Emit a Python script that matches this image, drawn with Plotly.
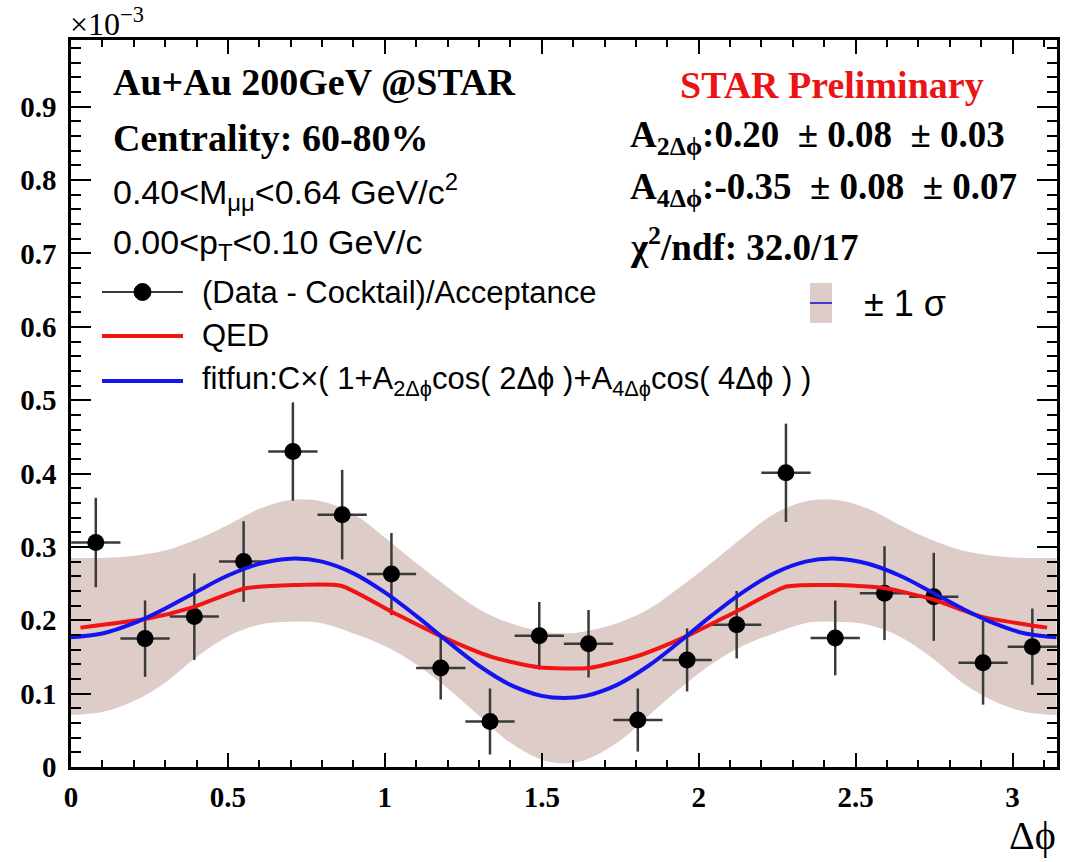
import plotly.graph_objects as go

# ---------------- data (values in units of 1e-3) ----------------
dphi = [0.079, 0.236, 0.393, 0.550, 0.707, 0.864, 1.021, 1.178, 1.335, 1.492,
        1.649, 1.806, 1.963, 2.121, 2.278, 2.435, 2.592, 2.749, 2.906, 3.063]
data_val = [0.306, 0.175, 0.205, 0.280, 0.430, 0.344, 0.263, 0.135, 0.062, 0.179,
            0.168, 0.064, 0.146, 0.194, 0.401, 0.176, 0.237, 0.232, 0.142, 0.164]
data_err = [0.061, 0.052, 0.059, 0.055, 0.067, 0.061, 0.056, 0.043, 0.045, 0.046,
            0.046, 0.043, 0.043, 0.046, 0.067, 0.051, 0.064, 0.060, 0.057, 0.052]
bin_half = [0.0785] * 20

fit_x = [0.0, 0.1, 0.2, 0.3, 0.4, 0.5, 0.6, 0.7, 0.8, 0.9, 1.0, 1.1, 1.2, 1.3, 1.4, 1.5, 1.57,
         1.64, 1.74, 1.84, 1.94, 2.04, 2.14, 2.24, 2.34, 2.44, 2.54, 2.64, 2.74, 2.84, 2.94, 3.04, 3.14]
fit_val = [0.177, 0.182, 0.196, 0.216, 0.239, 0.261, 0.277, 0.284, 0.280, 0.264, 0.238, 0.206, 0.171,
           0.138, 0.112, 0.097, 0.094,
           0.097, 0.112, 0.138, 0.171, 0.206, 0.238, 0.264, 0.280, 0.284, 0.277, 0.261, 0.239,
           0.216, 0.196, 0.182, 0.177]
band_hi = [0.285, 0.285, 0.288, 0.295, 0.310, 0.330, 0.352, 0.364, 0.362, 0.345, 0.313, 0.278, 0.245,
           0.215, 0.196, 0.185, 0.182,
           0.185, 0.196, 0.215, 0.245, 0.278, 0.313, 0.345, 0.362, 0.364, 0.352, 0.330, 0.310,
           0.295, 0.288, 0.285, 0.285]
band_lo = [0.071, 0.075, 0.090, 0.115, 0.150, 0.178, 0.194, 0.198, 0.196, 0.182, 0.165, 0.140, 0.107,
           0.070, 0.033, 0.010, 0.005,
           0.010, 0.033, 0.070, 0.107, 0.140, 0.165, 0.182, 0.196, 0.198, 0.194, 0.178, 0.150,
           0.115, 0.090, 0.075, 0.071]

qed_x = [0.03, 0.24, 0.39, 0.55, 0.71, 0.86, 1.02, 1.18, 1.34, 1.49,
         1.65, 1.81, 1.96, 2.12, 2.28, 2.43, 2.59, 2.75, 2.90, 3.11]
qed_val = [0.190, 0.202, 0.218, 0.243, 0.248, 0.247, 0.212, 0.178, 0.150, 0.136,
           0.135, 0.152, 0.178, 0.212, 0.246, 0.248, 0.244, 0.228, 0.205, 0.190]

x_ticks = [0, 0.5, 1, 1.5, 2, 2.5, 3]
x_ticklabels = ["0", "0.5", "1", "1.5", "2", "2.5", "3"]
y_ticks = [0, 0.1, 0.2, 0.3, 0.4, 0.5, 0.6, 0.7, 0.8, 0.9]
y_ticklabels = ["0", "0.1", "0.2", "0.3", "0.4", "0.5", "0.6", "0.7", "0.8", "0.9"]

# ---------------- style ----------------
BAND = "rgb(221,204,199)"
RED = "rgb(240,20,20)"
BLUE = "rgb(20,20,240)"
SERIF = "Liberation Serif"
SANS = "Liberation Sans"

L, R, T, B = 71, 1057, 40, 767
W, H = R - L, B - T


def px(x):
    return (x - L) / W


def py(y):
    return (B - y) / H


fig = go.Figure()

fig.add_trace(go.Scatter(x=fit_x, y=band_lo, mode="lines", line=dict(width=0, shape="spline"),
                         hoverinfo="skip", showlegend=False))
fig.add_trace(go.Scatter(x=fit_x, y=band_hi, mode="lines", line=dict(width=0, shape="spline"),
                         fill="tonexty", fillcolor=BAND, hoverinfo="skip", showlegend=False))

fig.add_trace(go.Scatter(
    x=dphi, y=data_val, mode="markers",
    marker=dict(color="black", size=17, symbol="circle"),
    error_y=dict(type="data", array=data_err, color="#3a3a3a", thickness=2.5, width=0),
    error_x=dict(type="data", array=bin_half, color="#3a3a3a", thickness=2.5, width=0),
    showlegend=False))

fig.add_trace(go.Scatter(x=qed_x, y=qed_val, mode="lines",
                         line=dict(color=RED, width=4, shape="spline", smoothing=0.6),
                         showlegend=False))
fig.add_trace(go.Scatter(x=fit_x, y=fit_val, mode="lines",
                         line=dict(color=BLUE, width=4, shape="spline"),
                         showlegend=False))

tickfont = dict(family=SERIF, size=29, color="black", weight="bold")
fig.update_xaxes(range=[0, 3.1416], tickvals=x_ticks, ticktext=x_ticklabels,
                 ticks="inside", ticklen=14, tickwidth=2, tickcolor="black",
                 minor=dict(dtick=0.1, tick0=0, ticks="inside", ticklen=7, tickwidth=2, tickcolor="black"),
                 showline=True, linewidth=2.5, linecolor="black", mirror="ticks",
                 showgrid=False, zeroline=False, tickfont=tickfont, ticklabelstandoff=2)
fig.update_yaxes(range=[0, 0.991], tickvals=y_ticks, ticktext=y_ticklabels,
                 ticks="inside", ticklen=20, tickwidth=2, tickcolor="black",
                 minor=dict(dtick=0.02, tick0=0, ticks="inside", ticklen=10, tickwidth=2, tickcolor="black"),
                 showline=True, linewidth=2.5, linecolor="black", mirror="ticks",
                 showgrid=False, zeroline=False, tickfont=tickfont, ticklabelstandoff=6)

ann = []


def text(x, y, s, family, size, color="black", anchor="left"):
    ann.append(dict(x=px(x), y=py(y), xref="paper", yref="paper", text=s, showarrow=False,
                    xanchor=anchor, yanchor="middle",
                    font=dict(family=family, size=size, color=color)))


text(68, 22, "×10<sup>−3</sup>", SERIF, 32)
text(111, 82, "<b>Au+Au 200GeV @STAR</b>", SERIF, 38)
text(111, 138, "<b>Centrality: 60-80%</b>", SERIF, 38)
text(111, 192, "0.40&lt;M<sub>μμ</sub>&lt;0.64 GeV/c<sup>2</sup>", SANS, 34)
text(111, 245, "0.00&lt;p<sub>T</sub>&lt;0.10 GeV/c", SANS, 34)
text(678, 85, "<b>STAR Preliminary</b>", SERIF, 38, color="rgb(235,20,20)")
text(628, 137, "<b>A<sub>2Δϕ</sub>:0.20 &nbsp;± 0.08 &nbsp;± 0.03</b>", SERIF, 37)
text(628, 190, "<b>A<sub>4Δϕ</sub>:-0.35 &nbsp;± 0.08 &nbsp;± 0.07</b>", SERIF, 37)
text(628, 245, "<b>χ<sup>2</sup>/ndf: 32.0/17</b>", SERIF, 37)

text(200, 292, "(Data - Cocktail)/Acceptance", SANS, 31)
text(200, 336, "QED", SANS, 31)
text(200, 381, "fitfun:C×( 1+A<sub>2Δϕ</sub>cos( 2Δϕ )+A<sub>4Δϕ</sub>cos( 4Δϕ ) )", SANS, 31)
text(862, 303, "± 1 σ", SANS, 36)
text(1058, 836, "Δϕ", SERIF, 40, anchor="right")
fig.update_layout(annotations=ann)

shapes = [
    dict(type="line", xref="paper", yref="paper", x0=px(102), x1=px(183), y0=py(292), y1=py(292),
         line=dict(color="#3a3a3a", width=2)),
    dict(type="circle", xref="paper", yref="paper", x0=px(134), x1=px(151), y0=py(283.5), y1=py(300.5),
         fillcolor="black", line=dict(color="black", width=1)),
    dict(type="line", xref="paper", yref="paper", x0=px(102), x1=px(183), y0=py(336), y1=py(336),
         line=dict(color=RED, width=4)),
    dict(type="line", xref="paper", yref="paper", x0=px(102), x1=px(183), y0=py(381), y1=py(381),
         line=dict(color=BLUE, width=4)),
    dict(type="rect", xref="paper", yref="paper", x0=px(810), x1=px(832), y0=py(283), y1=py(323),
         fillcolor=BAND, line=dict(width=0)),
    dict(type="line", xref="paper", yref="paper", x0=px(810), x1=px(832), y0=py(303), y1=py(303),
         line=dict(color="rgb(60,60,200)", width=2)),
]
fig.update_layout(shapes=shapes)

fig.update_layout(width=1081, height=862, autosize=False,
                  margin=dict(l=L, r=1081 - R, t=T, b=862 - B, pad=0),
                  plot_bgcolor="white", paper_bgcolor="white", showlegend=False)

fig.write_html("out.html")
